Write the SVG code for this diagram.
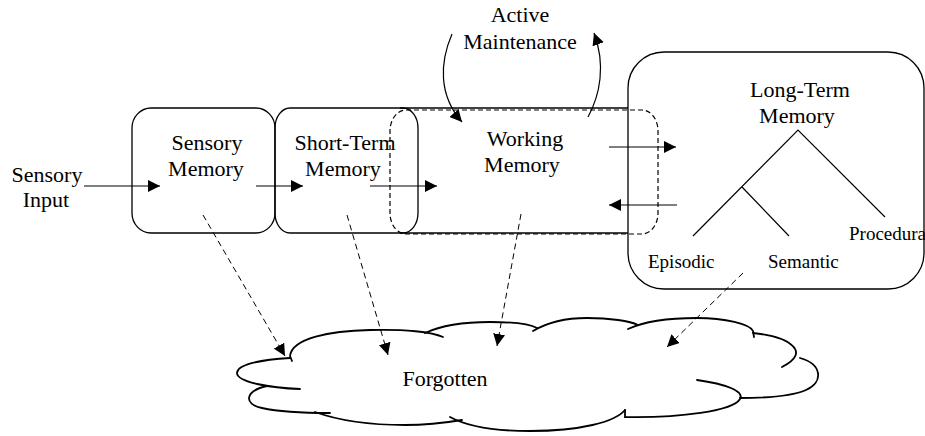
<svg xmlns="http://www.w3.org/2000/svg" width="925" height="436" viewBox="0 0 925 436">
  <style>
    .lbl { font-family: "Liberation Serif", "Times New Roman", serif; font-size: 22px; fill: #000; text-anchor: middle; }
    .sm { font-family: "Liberation Serif", "Times New Roman", serif; font-size: 19px; fill: #000; }
    .box { fill: none; stroke: #000; stroke-width: 1.3; }
    .dash-box { fill: none; stroke: #000; stroke-width: 1.2; stroke-dasharray: 5 3; }
    .arrow { fill: none; stroke: #000; stroke-width: 1.2; marker-end: url(#head); }
    .forget { fill: none; stroke: #000; stroke-width: 1; stroke-dasharray: 6 4; marker-end: url(#head); }
    .tree { fill: none; stroke: #000; stroke-width: 1.2; }
    .lobe { fill: none; stroke: #000; stroke-width: 1.8; stroke-linecap: round; }
  </style>
  <defs>
    <marker id="head" markerUnits="userSpaceOnUse" viewBox="0 0 12 12" markerWidth="12" markerHeight="12" refX="12" refY="6" orient="auto">
      <path d="M0,0 L12,6 L0,12 Z" fill="#000"/>
    </marker>
  </defs>

  <rect width="925" height="436" fill="#fff"/>

  <!-- input label -->
  <g id="sensory-input">
    <text class="lbl" x="47" y="182">Sensory</text>
    <text class="lbl" x="46" y="207">Input</text>
  </g>

  <g id="sensory-memory">
    <rect class="box" x="132" y="108" width="143" height="125" rx="19" ry="20"/>
    <text class="lbl" x="207" y="150">Sensory</text>
    <text class="lbl" x="206" y="176">Memory</text>
  </g>

  <g id="short-term-memory">
    <rect class="box" x="275" y="108" width="143" height="125" rx="15" ry="20"/>
    <text class="lbl" x="345" y="150">Short-Term</text>
    <text class="lbl" x="343" y="176">Memory</text>
  </g>

  <g id="working-memory">
    <line class="box" x1="400" y1="108" x2="628" y2="108"/>
    <line class="box" x1="400" y1="233" x2="628" y2="233"/>
    <rect class="dash-box" x="390" y="110" width="268" height="124" rx="16" ry="21"/>
    <text class="lbl" x="525" y="146">Working</text>
    <text class="lbl" x="522" y="172">Memory</text>
  </g>

  <g id="active-maintenance">
    <text class="lbl" x="520" y="22">Active</text>
    <text class="lbl" x="520" y="49">Maintenance</text>
  </g>

  <g id="long-term-memory">
    <rect class="box" x="628" y="52" width="296" height="237" rx="36" ry="36"/>
    <text class="lbl" x="800" y="97">Long-Term</text>
    <text class="lbl" x="797" y="123">Memory</text>
    <path class="tree" d="M693,236 L798,130 L885,217 M742,187 L789,236"/>
    <text class="sm" x="648" y="268">Episodic</text>
    <text class="sm" x="768" y="268">Semantic</text>
    <text class="sm" x="849" y="240">Procedura</text>
  </g>

  <g id="forgotten">
    <path class="lobe" d="M292,361 L290,356 C292,338 330,331 370,330 C405,329 432,332 443,337"/>
    <path class="lobe" d="M425,333 C440,326 462,322 490,322 C512,322 530,324 537,328"/>
    <path class="lobe" d="M533,331 C548,322 568,318 587,318 C610,318 630,321 638,325"/>
    <path class="lobe" d="M628,329 C645,321 670,318 697,318 C725,318 750,324 753,331 L754,337"/>
    <path class="lobe" d="M753,333 C790,337 812,352 782,367"/>
    <path class="lobe" d="M800,358 C822,364 824,382 806,390 C790,397 765,398 740,398"/>
    <path class="lobe" d="M697,380 C725,384 745,391 740,399 C733,411 680,418 625,417 L625,410"/>
    <path class="lobe" d="M450,417 C470,428 500,431 530,431 C580,431 615,422 625,410"/>
    <path class="lobe" d="M315,412 C340,421 375,425 405,425 C430,425 450,422 462,420"/>
    <path class="lobe" d="M267,386 C245,391 243,404 262,408 C280,412 310,413 330,413"/>
    <path class="lobe" d="M290,358 C258,360 237,365 237,373 C237,382 270,388 300,389"/>
    <text class="lbl" x="445" y="386">Forgotten</text>
  </g>

  <g id="connectors">
    <line class="arrow" x1="84" y1="186" x2="160" y2="186"/>
    <line class="arrow" x1="256" y1="186" x2="303" y2="186"/>
    <line class="arrow" x1="370" y1="186" x2="437" y2="186"/>
    <line class="arrow" x1="609" y1="147" x2="676" y2="147"/>
    <line class="arrow" x1="677" y1="205" x2="609" y2="205"/>
    <path class="arrow" d="M452,34 C440,62 438,95 462,122"/>
    <path class="arrow" d="M588,117 C600,95 606,65 594,33"/>
    <line class="forget" x1="203" y1="215" x2="285" y2="356"/>
    <line class="forget" x1="347" y1="215" x2="388" y2="355"/>
    <line class="forget" x1="521" y1="214" x2="497" y2="346"/>
    <line class="forget" x1="743" y1="273" x2="667" y2="347"/>
  </g>
</svg>
